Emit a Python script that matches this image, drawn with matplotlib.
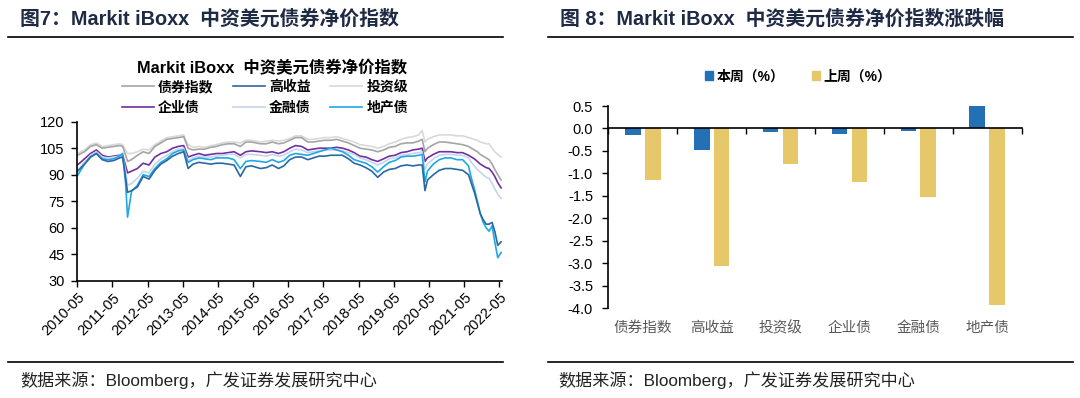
from __future__ import annotations

import matplotlib

matplotlib.use("Agg")

import matplotlib.dates as mdates
import matplotlib.pyplot as plt
import numpy as np
import pandas as pd
from matplotlib.lines import Line2D
from matplotlib.patches import Patch
from matplotlib.ticker import FormatStrFormatter

plt.rcParams["font.family"] = ["Liberation Sans", "Noto Sans CJK SC", "DejaVu Sans"]
plt.rcParams["axes.unicode_minus"] = False

W, H = 1080, 398

# ---- left chart: index levels ----
DATES = [
    "2010-05-03", "2010-07-15", "2010-09-15", "2010-11-15", "2011-01-15", "2011-03-15", "2011-05-15", "2011-07-15", "2011-08-15", "2011-09-15",
    "2011-10-05", "2011-11-15", "2012-01-15", "2012-03-15", "2012-05-15", "2012-07-15", "2012-09-15", "2012-11-15", "2013-01-15", "2013-03-15",
    "2013-05-10", "2013-06-25", "2013-08-15", "2013-10-15", "2013-12-15", "2014-02-15", "2014-04-15", "2014-06-15", "2014-08-15", "2014-10-15",
    "2014-12-20", "2015-02-15", "2015-04-15", "2015-07-15", "2015-09-15", "2015-11-15", "2016-01-20", "2016-03-15", "2016-05-15", "2016-07-15",
    "2016-09-15", "2016-11-20", "2017-01-15", "2017-03-15", "2017-05-15", "2017-07-15", "2017-09-15", "2017-11-15", "2018-01-15", "2018-03-15",
    "2018-05-15", "2018-07-15", "2018-09-15", "2018-11-15", "2019-01-15", "2019-03-15", "2019-05-15", "2019-07-15", "2019-09-15", "2019-11-15",
    "2020-01-15", "2020-02-20", "2020-03-20", "2020-04-15", "2020-06-15", "2020-08-15", "2020-10-15", "2020-12-15", "2021-02-15", "2021-04-15",
    "2021-06-15", "2021-07-15", "2021-08-15", "2021-09-15", "2021-10-15", "2021-11-15", "2021-12-15", "2022-01-15", "2022-02-15", "2022-03-15",
    "2022-04-15", "2022-05-20",
]

BOND_INDEX = [
    101, 103, 106, 107, 105, 105.5, 106, 106.5, 106, 101,
    97.5, 98.5, 101, 103, 102, 106, 108, 110, 110.5, 111,
    111.5, 105, 104, 104.5, 104.5, 105.5, 106, 107, 107.5, 107.5,
    106, 108.5, 108.5, 107.5, 107.5, 108.5, 107.5, 108, 109.5, 111,
    111, 108.5, 108.5, 109, 109.5, 109.5, 110, 109, 108, 106.5,
    105, 104.5, 104, 103, 104, 105.5, 106, 107.5, 108, 108,
    109, 110, 103, 105, 107, 108.5, 108.5, 108, 107.5, 107,
    106, 105, 104, 103, 101.5, 100.5, 99.5, 98.5, 96, 93,
    90, 87,
]
HIGH_YIELD = [
    92, 96, 100, 102, 98.5, 97.5, 98, 99.5, 100, 88,
    80, 81, 83, 89, 87.5, 92.5, 96, 98, 100.5, 102,
    103, 93.5, 96, 97, 96.5, 96, 96.5, 96.5, 96, 95.5,
    89, 94.5, 95, 93.5, 94, 95.5, 93.5, 95, 98.5, 100,
    100, 98.5, 99.5, 100.5, 100.5, 101, 101, 101, 99, 96.5,
    95.5, 94, 92, 88.5, 91.5, 93, 93.5, 95, 95.5, 95,
    95.5, 95.5, 81, 87, 90, 92.5, 93.5, 93.5, 93, 92.5,
    90, 85, 80, 74, 68, 64.5, 62, 62, 63, 58,
    50, 52,
]
INV_GRADE = [
    102, 104, 107, 108, 106, 106.5, 107, 107.5, 107, 104,
    102, 102, 103, 104.5, 104, 107, 109, 111, 111.5, 112,
    112.5, 107, 105.5, 106, 105.5, 106.5, 107, 108, 108.5, 108.5,
    108, 109.5, 109.5, 108.5, 109, 109.5, 109, 109.5, 110.5, 112,
    112, 110, 110, 110.5, 111, 111, 111.5, 110.5, 109.5, 108.5,
    107, 106.5, 106, 105, 106, 107.5, 108.5, 110, 111, 111.5,
    112.5, 115, 108.5, 110, 111.5, 112.5, 112.5, 112.5, 112, 112,
    111, 110.5, 110, 109.5, 108.5, 108, 107.5, 107.5, 105, 103,
    101.5, 100,
]
CORPORATE = [
    95.5, 99, 102, 104, 101, 100, 100.5, 101, 101, 95,
    91, 92, 93.5, 96.5, 95.5, 100, 102, 103, 105, 106,
    106.5, 100, 101, 102, 101, 101.5, 102, 102, 102.5, 103,
    101, 103, 103.5, 103, 102.5, 103, 102, 103, 105, 106.5,
    106, 104, 104.5, 105, 105, 105, 105.5, 105, 104, 102.5,
    100.5, 100, 98.5, 97.5, 99, 100.5, 101, 102.5, 103, 104,
    104.5, 105, 97.5, 99.5, 101.5, 103, 103, 103, 102.5, 102.5,
    101, 100, 99, 97.5, 96, 95, 94, 93.5, 91.5, 89,
    85.5, 82.5,
]
FINANCIAL = [
    92, 97, 101, 103, 100, 99.5, 100, 100.5, 100.5, 92,
    84, 85, 88, 92, 91, 96, 99, 101, 103, 104.5,
    105, 98, 99.5, 100.5, 100, 100, 100.5, 101, 101.5, 101.5,
    99.5, 101.5, 101.5, 101, 100.5, 101.5, 100.5, 101, 103, 104.5,
    104, 102.5, 103, 103.5, 104, 104, 104, 103.5, 102.5, 101.5,
    99.5, 98.5, 97, 95.5, 97, 99, 99.5, 101, 101.5, 102,
    102.5, 103, 93, 96, 99, 101, 101.5, 101.5, 101, 101,
    99.5, 97, 95, 93, 91.5, 90, 88.5, 88, 85, 82,
    79, 76.5,
]
PROPERTY = [
    89.5, 96, 100, 102, 99, 98.5, 99, 100.5, 102, 85,
    66, 80.5, 84, 90, 89, 93.5, 97, 99, 102, 103.5,
    104, 97, 98.5, 99.5, 99, 98.5, 99.5, 99.5, 99.5, 98.5,
    93.5, 97.5, 98, 97.5, 97, 98.5, 97, 98, 101, 102,
    101.5, 101, 102, 103, 104, 105, 104, 103, 101, 98.5,
    97.5, 96.5, 94.5, 91.5, 94.5, 97, 98, 100, 100.5, 100.5,
    101, 101.5, 86, 92, 96, 98.5, 99.5, 99.5, 98.5, 98.5,
    95, 88, 82, 75, 68, 63, 60, 58, 61, 52,
    43, 46,
]

# ---- right chart: weekly changes (%) ----
CATEGORIES = ["债券指数", "高收益", "投资级", "企业债", "金融债", "地产债"]
THIS_WEEK = [-0.15, -0.48, -0.08, -0.13, -0.06, 0.50]
LAST_WEEK = [-1.15, -3.05, -0.80, -1.20, -1.52, -3.92]

TITLE_COLOR = "#1f2a44"


def fx(px: float) -> float:
    return px / W


def fy(px: float) -> float:
    return 1 - px / H


def hline(fig, x0: float, x1: float, y: float, lw: float = 1.2) -> None:
    fig.add_artist(Line2D([fx(x0), fx(x1)], [fy(y), fy(y)], color="black", lw=lw))


def plot_levels(fig) -> None:
    ax = fig.add_axes([fx(77.3), fy(280.7), fx(502 - 77.3), (280.7 - 121.7) / H])
    dates = pd.to_datetime(DATES)

    series = [
        ("投资级", INV_GRADE, "#d9d9d9"),
        ("债券指数", BOND_INDEX, "#a5a5a5"),
        ("企业债", CORPORATE, "#7030a0"),
        ("金融债", FINANCIAL, "#c5d5ea"),
        ("地产债", PROPERTY, "#1fa8e4"),
        ("高收益", HIGH_YIELD, "#2a68a3"),
    ]
    handles = {}
    for name, values, color in series:
        (line,) = ax.plot(dates, values, color=color, lw=1.2, label=name)
        handles[name] = line

    ax.set_ylim(30, 120)
    ax.set_yticks(range(30, 121, 15))
    ax.set_xlim(pd.Timestamp("2010-05-01"), pd.Timestamp("2022-05-29"))
    ax.xaxis.set_major_locator(mdates.MonthLocator(bymonth=5))
    ax.xaxis.set_major_formatter(mdates.DateFormatter("%Y-%m"))
    for lab in ax.get_xticklabels():
        lab.set_rotation(45)
        lab.set_ha("right")
        lab.set_rotation_mode("anchor")
    ax.tick_params(direction="out", length=4, width=1, colors="black")
    ax.tick_params(axis="x", pad=3, labelsize=10.5)
    ax.tick_params(axis="y", pad=5, labelsize=10.5)
    for side in ("top", "right"):
        ax.spines[side].set_visible(False)
    for side in ("left", "bottom"):
        ax.spines[side].set_linewidth(1.2)
    ax.patch.set_alpha(0)

    fig.text(fx(272), fy(68), "Markit iBoxx  中资美元债券净价指数", ha="center", va="center",
             fontsize=11.8, fontweight="bold", color="black")

    # legend fills column by column, so order the handles to read row-wise
    order = ["债券指数", "企业债", "高收益", "金融债", "投资级", "地产债"]
    fig.legend([handles[n] for n in order], order, ncol=3, loc="center",
               bbox_to_anchor=(fx(265), fy(97.5)), frameon=False,
               handlelength=2.3, handletextpad=0.3, columnspacing=1.4, labelspacing=0.5,
               prop={"weight": "bold", "size": 10})


def plot_changes(fig) -> None:
    ax = fig.add_axes([fx(608.3), fy(308.3), fx(1021.7 - 608.3), (308.3 - 106) / H])
    x = np.arange(len(CATEGORIES))
    width = 0.228
    ax.bar(x - 0.145, THIS_WEEK, width, color="#2370b5", label="本周（%）", zorder=2)
    ax.bar(x + 0.145, LAST_WEEK, width, color="#e6c76a", label="上周（%）", zorder=2)

    ax.set_xlim(-0.5, len(CATEGORIES) - 0.5)
    ax.set_ylim(-4.0, 0.5)
    ax.set_yticks(np.arange(-4.0, 0.51, 0.5))
    ax.yaxis.set_major_formatter(FormatStrFormatter("%.1f"))
    ax.set_xticks(np.arange(-0.5, len(CATEGORIES), 1.0))
    ax.set_xticklabels([])
    ax.spines["bottom"].set_position(("data", 0))
    for side in ("top", "right"):
        ax.spines[side].set_visible(False)
    for side in ("left", "bottom"):
        ax.spines[side].set_linewidth(1.2)
    ax.tick_params(direction="out", length=4, width=1, labelsize=10.5, colors="black")
    ax.tick_params(axis="y", pad=7)
    ax.patch.set_alpha(0)

    for i, name in enumerate(CATEGORIES):
        ax.annotate(name, xy=(i, -4.0), xytext=(0, -9), textcoords="offset points",
                    ha="center", va="top", fontsize=10.5, color="#595959")

    fig.legend(handles=[Patch(color="#2370b5"), Patch(color="#e6c76a")],
               labels=["本周（%）", "上周（%）"], ncol=2, loc="center",
               bbox_to_anchor=(fx(798), fy(76.5)), frameon=False,
               handlelength=0.6, handleheight=0.6, handletextpad=0.2, columnspacing=2.0,
               prop={"weight": "bold", "size": 10})


def main() -> None:
    fig = plt.figure(figsize=(W / 100, H / 100), dpi=100)

    fig.text(fx(20), fy(19), "图7：Markit iBoxx  中资美元债券净价指数", ha="left", va="center",
             fontsize=14.3, fontweight="bold", color=TITLE_COLOR)
    fig.text(fx(560), fy(19), "图 8：Markit iBoxx  中资美元债券净价指数涨跌幅", ha="left", va="center",
             fontsize=14.3, fontweight="bold", color=TITLE_COLOR)
    hline(fig, 8, 503, 37.3)
    hline(fig, 548, 1073, 37.3)
    hline(fig, 8, 503, 362.3)
    hline(fig, 548, 1073, 362.3)

    source = "数据来源：Bloomberg，广发证券发展研究中心"
    fig.text(fx(20), fy(380), source, ha="left", va="center", fontsize=12.3, color="#222222")
    fig.text(fx(558), fy(380), source, ha="left", va="center", fontsize=12.3, color="#222222")

    plot_levels(fig)
    plot_changes(fig)

    fig.savefig("out.png", dpi=100)
    plt.close(fig)


if __name__ == "__main__":
    main()
